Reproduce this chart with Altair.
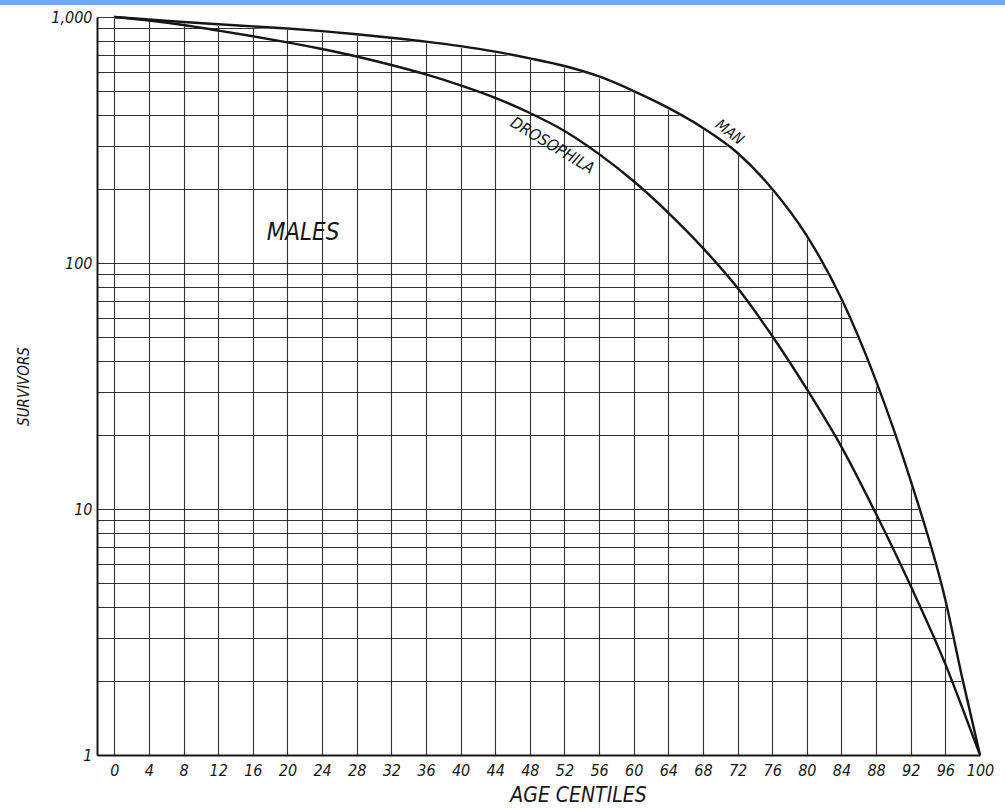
import altair as alt
import pandas as pd

# ---- data ----
man_age = [0, 4, 8, 12, 16, 20, 24, 28, 32, 36, 40, 44, 48, 52, 56, 60, 64, 68, 72, 76, 80, 84, 88, 92, 96, 98, 100]
man_surv = [1000, 977, 954, 934, 916, 898, 876, 851, 823, 794, 761, 723, 679, 632, 573, 500, 427, 354, 280, 200, 129, 71.5, 33.1, 13.0, 4.27, 2.02, 1]

dros_age = [0, 4, 8, 12, 16, 20, 24, 28, 32, 36, 40, 44, 48, 52, 56, 60, 64, 68, 72, 76, 80, 84, 88, 92, 96, 98, 100]
dros_surv = [1000, 968, 928, 881, 835, 789, 741, 691, 638, 584, 527, 469, 407, 344, 277, 215, 160, 115, 79.1, 50.5, 30.7, 17.9, 9.54, 4.86, 2.34, 1.54, 1]

x_ticks = list(range(0, 101, 4))
y_grid = [1, 2, 3, 4, 5, 6, 7, 8, 9, 10, 20, 30, 40, 50, 60, 70, 80, 90,
          100, 200, 300, 400, 500, 600, 700, 800, 900, 1000]

labels_text = ["MALES", "DROSOPHILA", "MAN"]
labels_x = [21.8, 50.6, 71.1]
labels_y = [133, 300, 341]
labels_angle = [0, 31, 37]
labels_size = [24, 16, 15]

FONT = "DejaVu Sans Condensed, Liberation Sans Narrow, DejaVu Sans"
INK = "#161616"

man_df = pd.DataFrame({"age": man_age, "survivors": man_surv, "series": "Man"})
dros_df = pd.DataFrame({"age": dros_age, "survivors": dros_surv, "series": "Drosophila"})
curves = pd.concat([man_df, dros_df], ignore_index=True)
text_df = pd.DataFrame({"label": labels_text, "age": labels_x, "survivors": labels_y,
                        "angle": labels_angle, "size": labels_size})

x_scale = alt.Scale(domain=[-2, 100], nice=False, zero=False)
y_scale = alt.Scale(type="log", domain=[1, 1000], nice=False)

x_axis = alt.Axis(
    values=x_ticks, tickCount=60, title="AGE CENTILES", ticks=False, labelPadding=7,
    labelFont=FONT, labelFontStyle="italic", labelFontSize=16, labelColor=INK,
    labelFlush=False, labelOverlap=False,
    titleFont=FONT, titleFontStyle="italic", titleFontWeight="normal", titleFontSize=21,
    titleColor=INK, titleX=481, titleY=40, titleBaseline="middle",
    grid=True, gridColor=INK, gridWidth=1.1,
    gridOpacity={"condition": {"test": "datum.value === 100", "value": 0}, "value": 0.88},
    domain=True, domainColor=INK, domainWidth=2,
)
y_axis = alt.Axis(
    values=y_grid, tickCount=60, format=",", title="SURVIVORS", ticks=False, labelPadding=5,
    labelExpr="(datum.value == 1 || datum.value == 10 || datum.value == 100 || datum.value == 1000) ? datum.label : ''",
    labelFont=FONT, labelFontStyle="italic", labelFontSize=16, labelColor=INK,
    labelOverlap=False, labelFlush=False, labelBaseline="middle",
    titleFont=FONT, titleFontStyle="italic", titleFontWeight="normal", titleFontSize=15,
    titleColor=INK, titleX=-74, titleY=369, titleAngle=-90, titleBaseline="middle",
    grid=True, gridColor=INK, gridWidth=1.1, gridOpacity=0.88,
    domain=True, domainColor=INK, domainWidth=2,
)

# white region above the MAN curve hides the grid there (as in the original drawing)
cover = alt.Chart(man_df).mark_area(fill="white", stroke="white", strokeWidth=3,
                                    opacity=1, interpolate="monotone").encode(
    x=alt.X("age:Q", scale=x_scale, axis=x_axis),
    y=alt.Y("survivors:Q", scale=y_scale, axis=y_axis),
    y2=alt.datum(1000),
)

lines = alt.Chart(curves).mark_line(strokeWidth=2.4, interpolate="monotone").encode(
    x=alt.X("age:Q", scale=x_scale),
    y=alt.Y("survivors:Q", scale=y_scale),
    color=alt.Color("series:N", scale=alt.Scale(domain=["Man", "Drosophila"], range=[INK, INK]), legend=None),
    detail="series:N",
)

texts = alt.Chart(text_df).mark_text(font=FONT, fontStyle="italic", color=INK, baseline="middle", align="center").encode(
    x=alt.X("age:Q", scale=x_scale),
    y=alt.Y("survivors:Q", scale=y_scale),
    text="label:N",
    angle=alt.Angle("angle:Q", scale=None),
    size=alt.Size("size:Q", scale=None, legend=None),
)

top_bar = alt.Chart(pd.DataFrame({"k": [0]})).mark_rect(color="#6ea8fb").encode(
    x=alt.value(-97), x2=alt.value(908), y=alt.value(-17), y2=alt.value(-12)
)

chart = alt.layer(cover, lines, texts, top_bar).properties(
    width=883, height=738,
    padding={"left": 97, "top": 17, "right": 25, "bottom": 53},
    autosize="none",
    background="white",
).configure_view(stroke=None)

chart.save("out.html", embed_options={"renderer": "svg", "actions": False})
